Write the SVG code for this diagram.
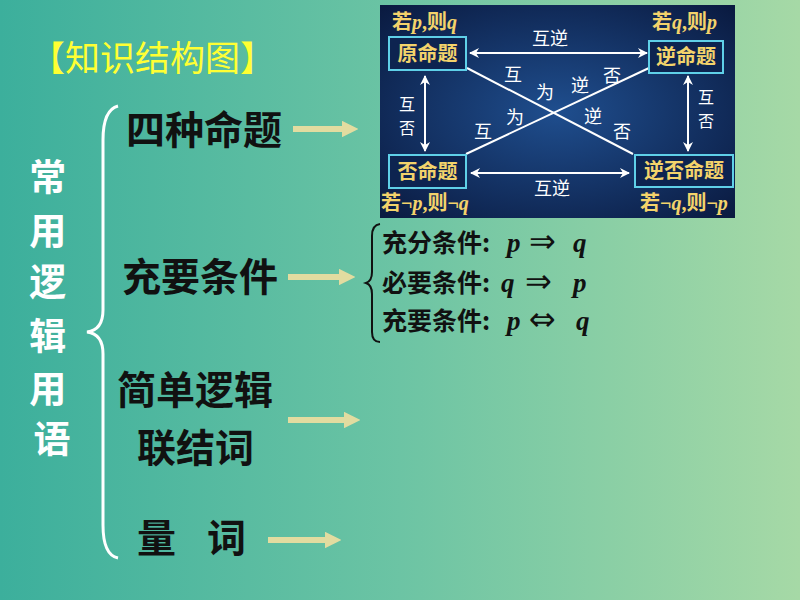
<svg xmlns="http://www.w3.org/2000/svg" width="800" height="600" viewBox="0 0 800 600">
<defs>
<linearGradient id="bg" x1="0" y1="0" x2="1" y2="0">
<stop offset="0" stop-color="#3caf9c"/>
<stop offset="0.5" stop-color="#6cc4a4"/>
<stop offset="1" stop-color="#a6d9a6"/>
</linearGradient>
<radialGradient id="panel" cx="0.5" cy="0.5" r="0.7">
<stop offset="0" stop-color="#1f4e8e"/>
<stop offset="1" stop-color="#0a1a40"/>
</radialGradient>
<marker id="wh" viewBox="0 0 10 10" refX="9" refY="5" markerWidth="5" markerHeight="5" orient="auto-start-reverse">
<path d="M0,0 L10,5 L0,10 L3,5 Z" fill="#ffffff"/>
</marker>
<marker id="bh" viewBox="0 0 10 10" refX="2" refY="5" markerWidth="2.8" markerHeight="2.8" orient="auto">
<path d="M0,0 L10,5 L0,10 Z" fill="#e2dca0"/>
</marker>
</defs>
<style>
.cjk{font-family:"Noto Sans CJK SC","Noto Sans",sans-serif;}
.big{font-size:39px;font-weight:bold;fill:#111111;}
.gold{font-size:20px;font-weight:bold;fill:#f3d36b;}
.wt{font-size:18px;fill:#ffffff;}
.vt{font-size:16px;}
.box{fill:#0d2450;stroke:#5fd0e8;stroke-width:2;}
.wl{stroke:#ffffff;stroke-width:2;fill:none;}
.ba{stroke:#e2dca0;stroke-width:6;fill:none;}
.it{font-family:"Liberation Serif",serif;font-style:italic;font-size:27px;font-weight:bold;fill:#111111;}
.ar{font-family:"DejaVu Sans",sans-serif;font-size:32px;fill:#111111;}
.cond{font-size:25px;font-weight:bold;fill:#111111;}
</style>
<rect width="800" height="600" fill="url(#bg)"/>

<g id="title">
<text x="30" y="71" class="cjk" font-size="35" fill="#ffff33">【知识结构图】</text>
</g>

<g id="root">
<text class="cjk" font-size="37" font-weight="bold" fill="#ffffff" text-anchor="middle">
<tspan x="52" y="191">常</tspan>
<tspan x="52" y="245">用</tspan>
<tspan x="52" y="296">逻</tspan>
<tspan x="52" y="350">辑</tspan>
<tspan x="52" y="403">用</tspan>
<tspan x="52" y="453">语</tspan>
</text>
<path d="M118,106 Q103,110 103,140 L103,310 Q103,330 87,332 Q103,334 103,354 L103,525 Q103,555 118,558" stroke="#ffffff" stroke-width="3" fill="none"/>
</g>

<g id="items">
<text x="126" y="144" class="cjk big">四种命题</text>
<text x="122" y="291" class="cjk big">充要条件</text>
<text x="117" y="404" class="cjk big">简单逻辑</text>
<text x="137" y="462" class="cjk big">联结词</text>
<text x="137" y="552" class="cjk big">量</text>
<text x="207" y="552" class="cjk big">词</text>
</g>

<g id="connectors">
<line x1="293" y1="129" x2="345" y2="129" class="ba" marker-end="url(#bh)"/>
<line x1="288" y1="277" x2="342" y2="277" class="ba" marker-end="url(#bh)"/>
<line x1="288" y1="420" x2="347" y2="420" class="ba" marker-end="url(#bh)"/>
<line x1="268" y1="540" x2="328" y2="540" class="ba" marker-end="url(#bh)"/>
</g>

<g id="conditions">
<path d="M380,224 Q372,225 372,236 L372,272 Q372,281 366,283 Q372,285 372,294 L372,332 Q372,342 380,342" stroke="#111111" stroke-width="2" fill="none"/>
<text x="382" y="252" class="cjk cond">充分条件:</text>
<text x="507" y="252" class="it">p</text>
<text x="529" y="252" class="ar">⇒</text>
<text x="573" y="252" class="it">q</text>
<text x="382" y="292" class="cjk cond">必要条件:</text>
<text x="501" y="292" class="it">q</text>
<text x="525" y="292" class="ar">⇒</text>
<text x="573" y="292" class="it">p</text>
<text x="382" y="330" class="cjk cond">充要条件:</text>
<text x="507" y="330" class="it">p</text>
<text x="529" y="330" class="ar">⇔</text>
<text x="576" y="330" class="it">q</text>
</g>

<g id="four-propositions">
<rect x="380" y="5" width="355" height="213" fill="url(#panel)"/>
<g id="pc-lines">
<line x1="470" y1="53" x2="647" y2="53" class="wl" marker-start="url(#wh)" marker-end="url(#wh)"/>
<line x1="471" y1="173" x2="629" y2="173" class="wl" marker-start="url(#wh)" marker-end="url(#wh)"/>
<line x1="425" y1="76" x2="425" y2="151" class="wl" marker-start="url(#wh)" marker-end="url(#wh)"/>
<line x1="688" y1="76" x2="688" y2="151" class="wl" marker-start="url(#wh)" marker-end="url(#wh)"/>
<line x1="467" y1="68" x2="633" y2="154" class="wl"/>
<line x1="649" y1="68" x2="466" y2="154" class="wl"/>
</g>
<g id="n-orig"><rect x="389" y="37" width="77" height="33" class="box"/><text x="427.5" y="61" text-anchor="middle" class="cjk gold">原命题</text></g>
<g id="n-conv"><rect x="649" y="41" width="74" height="32" class="box"/><text x="686" y="64" text-anchor="middle" class="cjk gold">逆命题</text></g>
<g id="n-inv"><rect x="389" y="155" width="77" height="33" class="box"/><text x="427.5" y="179" text-anchor="middle" class="cjk gold">否命题</text></g>
<g id="n-contra"><rect x="635" y="155" width="98" height="32" class="box"/><text x="684" y="178" text-anchor="middle" class="cjk gold">逆否命题</text></g>
<text class="gold" font-family="'Liberation Serif','Noto Sans CJK SC',serif" font-size="19">
<tspan x="392" y="29">若<tspan font-style="italic">p</tspan>,则<tspan font-style="italic">q</tspan></tspan>
<tspan x="652" y="29">若<tspan font-style="italic">q</tspan>,则<tspan font-style="italic">p</tspan></tspan>
<tspan x="381" y="210">若¬<tspan font-style="italic">p</tspan>,则¬<tspan font-style="italic">q</tspan></tspan>
<tspan x="640" y="210">若¬<tspan font-style="italic">q</tspan>,则¬<tspan font-style="italic">p</tspan></tspan>
</text>
<g class="cjk wt" text-anchor="middle">
<text x="550" y="45">互逆</text>
<text x="552" y="195">互逆</text>
<text x="407" y="110" class="vt">互</text>
<text x="407" y="134" class="vt">否</text>
<text x="706" y="103" class="vt">互</text>
<text x="706" y="127" class="vt">否</text>
<text x="513" y="81">互</text>
<text x="545" y="99">为</text>
<text x="580" y="92">逆</text>
<text x="612" y="82">否</text>
<text x="483" y="138">互</text>
<text x="515" y="124">为</text>
<text x="593" y="123">逆</text>
<text x="622" y="138">否</text>
</g>
</g>
</svg>
